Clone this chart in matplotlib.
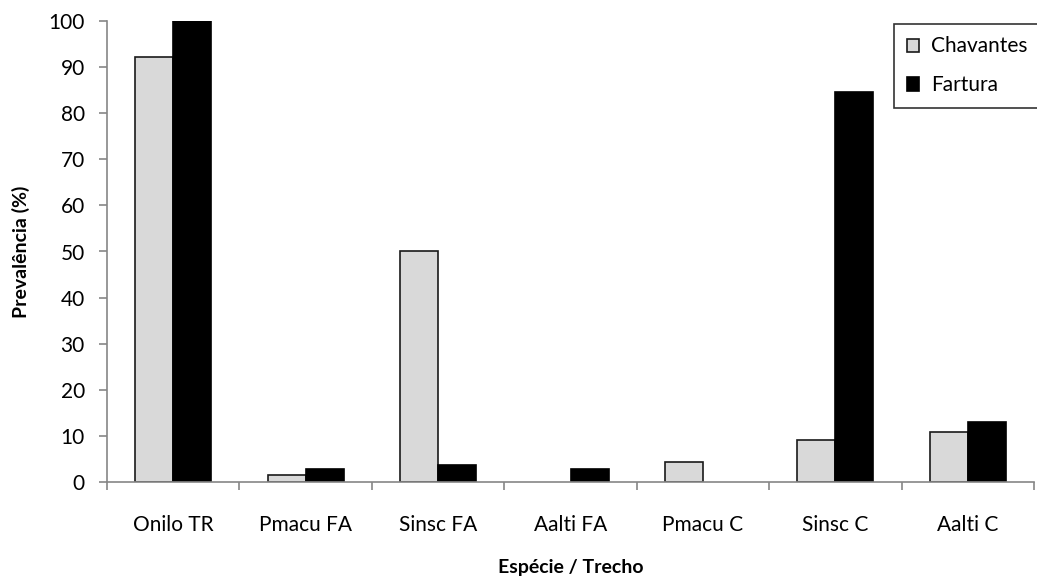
import numpy as np
import matplotlib.pyplot as plt

# Prevalência por espécie / trecho
trechos = ["Onilo TR", "Pmacu FA", "Sinsc FA", "Aalti FA", "Pmacu C", "Sinsc C", "Aalti C"]
chavantes = [92.1, 1.6, 50.0, 0.0, 4.3, 9.2, 10.8]
fartura = [100.0, 2.8, 3.6, 2.8, 0.0, 84.6, 13.0]

plt.rcParams['font.family'] = ['Lato', 'DejaVu Sans']

fig = plt.figure(figsize=(10.37, 5.83), dpi=100)
ax = fig.add_axes([107 / 1037, 101 / 583, 927 / 1037, 461 / 583])

x = np.arange(len(trechos))
w = 0.287
# barras de valor zero ficam sem contorno
lw_c = [1.2 if v > 0 else 0 for v in chavantes]
lw_f = [1.2 if v > 0 else 0 for v in fartura]
ax.bar(x - w / 2, chavantes, w, color='#d9d9d9', edgecolor='#1a1a1a', linewidth=lw_c, label='Chavantes')
ax.bar(x + w / 2, fartura, w, color='black', edgecolor='black', linewidth=lw_f, label='Fartura')

ax.set_xlim(-0.5, len(trechos) - 0.5)
ax.set_ylim(0, 100)
ax.set_yticks(np.arange(0, 101, 10))

# ticks entre as categorias no eixo x
ax.set_xticks(np.arange(-0.5, len(trechos), 1))
ax.set_xticklabels([])
ax.set_xticks(x, minor=True)
ax.set_xticklabels(trechos, minor=True)
ax.tick_params(axis='x', which='minor', length=0, pad=24, labelsize=15)
ax.tick_params(axis='x', which='major', length=6, color='#868686', width=1.2, direction='out')
ax.tick_params(axis='y', length=6, color='#868686', width=1.2, direction='out', labelsize=15, pad=10)

for s in ['top', 'right']:
    ax.spines[s].set_visible(False)
for s in ['left', 'bottom']:
    ax.spines[s].set_color('#868686')
    ax.spines[s].set_linewidth(1.2)

ax.set_ylabel('Prevalência (%)', fontsize=14, fontweight='bold', labelpad=13)
ax.set_xlabel('Espécie / Trecho', fontsize=14, fontweight='bold', labelpad=17)

leg = fig.legend(loc='upper left', bbox_to_anchor=(894 / 1037, 1 - 24 / 583),
                 fontsize=15, frameon=True, fancybox=False, edgecolor='black',
                 handlelength=0.6, handleheight=0.6, handletextpad=0.6,
                 labelspacing=0.9, borderpad=0.6, borderaxespad=0)
leg.get_frame().set_linewidth(1.2)

fig.savefig('out.png', dpi=100)
